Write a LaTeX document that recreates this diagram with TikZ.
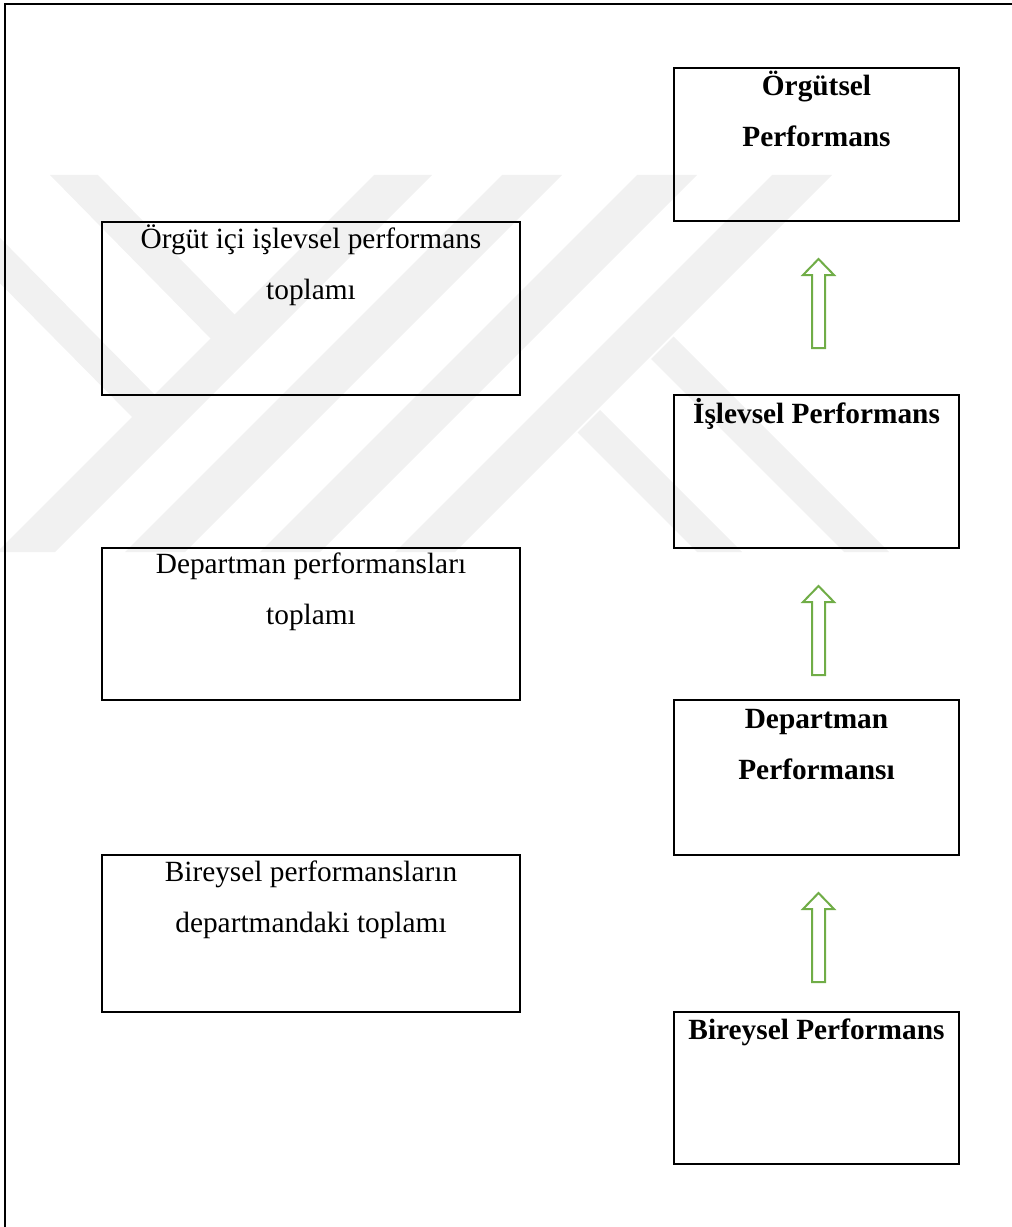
\documentclass[tikz,border=0pt]{standalone}
\usepackage{fontspec}
\setmainfont{Liberation Serif}
\usetikzlibrary{calc}
\definecolor{wm}{RGB}{241,241,241}
\definecolor{agreen}{RGB}{112,173,71}
\tikzset{
  box/.style={draw=black, line width=1.8pt, rectangle, inner sep=0pt, outer sep=0pt},
  lbox/.style={box, minimum width=313.5pt},
  rbox/.style={box, minimum width=213.75pt},
  ltext/.style={anchor=base, inner sep=0pt, font=\fontsize{22}{38.25}\selectfont},
  rtext/.style={anchor=base, inner sep=0pt, font=\fontsize{22}{38.25}\selectfont\bfseries},
  garrow/.style={draw=agreen, line width=1.5pt, fill=white, line join=miter},
  pageframe/.style={draw=black, line width=1.5pt},
  wmark/.style={fill=wm},
}
\newcommand{\uparrowblock}[1]{%
  \draw[garrow] ($(#1.south)+(-4.5,127)$) -- ++(0,-73) -- ++(-9,0) -- ++(15.5,-16)
    -- ++(15.5,16) -- ++(-9,0) -- ++(0,73) -- cycle;}
\begin{document}
\begin{tikzpicture}[x=0.75pt,y=-0.75pt]
\useasboundingbox (0,0) rectangle (1012,1227);

% faint watermark
\begin{scope}
  \clip (0,175) rectangle (1012,552);
  \fill[wmark] (374,175) -- (432,175) -- (55,552) -- (-3,552) -- cycle;
  \fill[wmark] (502,175) -- (562,175) -- (185,552) -- (125,552) -- cycle;
  \fill[wmark] (637,175) -- (697,175) -- (320,552) -- (260,552) -- cycle;
  \fill[wmark] (772,175) -- (832,175) -- (455,552) -- (395,552) -- cycle;
  \fill[wmark] (50,175) -- (98,175) -- (237.5,317.5) -- (213.5,341.5) -- cycle;
  \fill[wmark] (-107,175) -- (-62,175) -- (157.5,397.5) -- (135,420) -- cycle;
  \fill[wmark] (673.5,336.5) -- (889,552) -- (844,552) -- (651,359) -- cycle;
  \fill[wmark] (600,410) -- (742,552) -- (697,552) -- (577.5,432.5) -- cycle;
\end{scope}

% page frame (left and top edges)
\draw[pageframe] (4.5,1227) -- (4.5,4.5) -- (1012,4.5);

% left boxes
\node[lbox, minimum height=129.75pt] (la) at (311,308.5) {};
\node[lbox, minimum height=114pt]    (lb) at (311,624) {};
\node[lbox, minimum height=117.75pt] (lc) at (311,933.5) {};

% right boxes
\node[rbox, minimum height=114.75pt] (r1) at (816.5,144.5) {};
\node[rbox, minimum height=114.75pt] (r2) at (816.5,471.5) {};
\node[rbox, minimum height=116.25pt] (r3) at (816.5,777.5) {};
\node[rbox, minimum height=114pt]    (r4) at (816.5,1088) {};

% texts
\node[ltext] (ta) at ($(la.north)+(0,26)$) {\begin{tabular}[t]{@{}c@{}}Örgüt içi işlevsel performans\\ toplamı\end{tabular}};
\node[ltext] (tb) at ($(lb.north)+(0,25)$) {\begin{tabular}[t]{@{}c@{}}Departman performansları\\ toplamı\end{tabular}};
\node[ltext] (tc) at ($(lc.north)+(0,26)$) {\begin{tabular}[t]{@{}c@{}}Bireysel performansların\\ departmandaki toplamı\end{tabular}};

\node[rtext] (t1) at ($(r1.north)+(0,28)$) {\begin{tabular}[t]{@{}c@{}}Örgütsel\\ Performans\end{tabular}};
\node[rtext] (t2) at ($(r2.north)+(0,28)$) {İşlevsel Performans};
\node[rtext] (t3) at ($(r3.north)+(0,28)$) {\begin{tabular}[t]{@{}c@{}}Departman\\ Performansı\end{tabular}};
\node[rtext] (t4) at ($(r4.north)+(0,27)$) {Bireysel Performans};

% green block arrows
\uparrowblock{r1}
\uparrowblock{r2}
\uparrowblock{r3}
\end{tikzpicture}
\end{document}
